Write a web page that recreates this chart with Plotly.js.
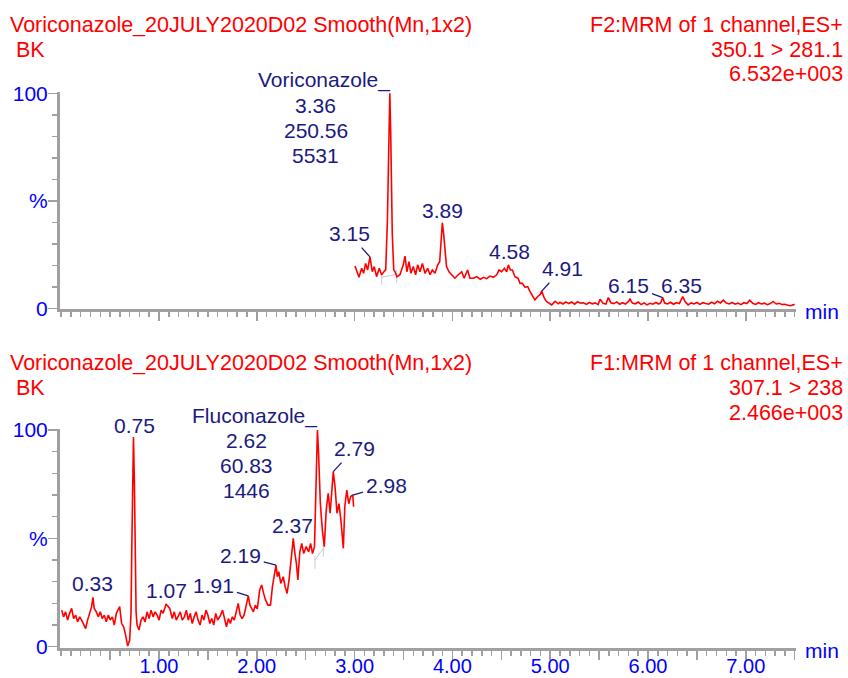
<!DOCTYPE html>
<html>
<head>
<meta charset="utf-8">
<script src="https://cdn.plot.ly/plotly-3.0.1.min.js"></script>
<style>html,body{margin:0;padding:0;background:#fff;}#chart{width:848px;height:678px;}</style>
</head>
<body>
<div id="chart"></div>
<script>
// ---------- DATA ----------
// Top chromatogram: F2 MRM 350.1 > 281.1 (Voriconazole), % relative intensity
const topTime = [3.004,3.024,3.045,3.072,3.092,3.113,3.133,3.157,3.181,3.201,3.225,3.252,3.276,3.300,3.318,3.335,3.350,3.360,3.370,3.385,3.400,3.413,3.433,3.464,3.498,3.515,3.535,3.556,3.576,3.600,3.624,3.645,3.669,3.693,3.720,3.747,3.771,3.795,3.822,3.850,3.870,3.884,3.897,3.910,3.924,3.940,3.965,3.990,4.025,4.060,4.095,4.120,4.155,4.180,4.215,4.250,4.285,4.320,4.350,4.385,4.420,4.453,4.477,4.504,4.531,4.555,4.572,4.593,4.613,4.640,4.670,4.692,4.715,4.743,4.770,4.794,4.815,4.843,4.872,4.896,4.913,4.940,4.962,4.986,5.015,5.050,5.084,
5.10,5.13,5.16,5.19,5.22,5.25,5.28,5.31,5.34,5.37,5.40,5.43,5.46,5.49,5.51,5.54,5.57,5.594,5.62,5.65,5.68,5.71,5.74,5.77,5.80,5.816,5.84,5.87,5.90,5.93,5.96,5.99,6.02,6.05,6.08,6.11,6.13,6.15,6.17,6.20,6.23,6.26,6.29,6.32,6.355,6.38,6.41,6.44,6.47,6.50,6.53,6.56,6.59,6.62,6.65,6.68,6.71,6.74,6.77,6.80,6.83,6.86,6.89,6.92,6.95,6.98,7.01,7.04,7.07,7.10,7.13,7.16,7.19,7.22,7.25,7.28,7.31,7.34,7.37,7.40,7.43,7.46,7.48,7.50];
const topIntensity = [19.7,17.0,14.4,18.6,16.3,20.9,17.8,23.9,17.0,19.4,14.7,18.6,15.6,17.0,18.0,40,88,100,80,35,18,17.0,14.7,15.6,20.2,24.3,17.0,21.7,16.3,19.4,15.6,20.2,17.0,20.9,16.3,18.6,15.6,17.8,16.3,20.2,21.7,33.3,39.8,34.8,25.6,19.4,17.0,15.6,14.0,15.6,17.0,14.0,17.8,14.0,14.0,14.7,13.5,14.4,13.8,15.0,14.4,15.6,17.8,17.0,18.6,17.0,20.2,17.8,17.8,14.7,14.0,11.6,11.6,9.8,10.1,7.8,6.3,3.9,5.5,6.3,8.0,4.7,3.2,2.4,1.6,3.2,2.1,
2.8,2.0,3.0,2.2,2.9,1.9,3.1,2.4,2.6,1.8,2.7,2.1,2.5,1.7,4.2,2.3,2.0,5.0,2.6,2.2,3.0,1.9,2.6,2.0,3.2,4.3,2.4,2.1,2.9,1.7,2.5,1.6,2.3,1.9,2.7,2.0,2.6,5.0,2.4,2.0,2.8,1.9,2.6,2.2,5.4,3.0,1.6,2.5,2.0,2.7,1.8,2.6,2.2,1.9,2.8,2.1,3.3,2.5,3.8,2.4,2.0,2.7,1.9,2.4,1.7,2.6,2.2,3.8,2.3,1.8,2.6,2.0,2.4,1.7,2.2,3.2,2.0,2.3,1.8,1.9,1.4,1.2,1.6,1.8];

// Bottom chromatogram: F1 MRM 307.1 > 238 (Fluconazole), % relative intensity
const bottomTime = [0.005,0.025,0.045,0.066,0.086,0.107,0.127,0.148,0.168,0.189,0.209,0.230,0.250,0.270,0.291,0.311,0.325,0.338,0.359,0.379,0.400,0.420,0.441,0.461,0.482,0.502,0.523,0.543,0.564,0.584,0.598,0.618,0.639,0.659,0.680,0.700,0.714,0.722,0.731,0.739,0.748,0.757,0.766,0.776,0.796,0.817,0.837,0.858,0.878,0.899,0.919,0.940,0.960,0.981,1.001,1.022,1.042,1.062,1.072,1.090,1.110,1.136,1.156,1.177,1.197,1.218,1.238,1.260,1.280,1.300,1.320,1.340,1.360,1.380,1.400,1.420,1.440,1.460,1.480,1.500,1.520,1.540,1.560,1.580,1.600,1.630,1.650,1.670,1.690,1.710,1.730,1.750,1.770,1.790,1.810,1.830,1.850,1.870,1.890,1.913,1.930,1.950,1.965,1.985,2.005,2.030,2.050,2.070,2.090,2.115,2.140,2.160,2.180,2.196,2.210,2.225,2.245,2.270,2.290,2.310,2.330,2.350,2.373,2.390,2.405,2.420,2.440,2.460,2.480,2.505,2.530,2.550,2.570,2.590,2.605,2.620,2.632,2.650,2.670,2.690,2.710,2.730,2.750,2.765,2.782,2.800,2.820,2.840,2.860,2.885,2.900,2.920,2.940,2.960,2.981,2.990];
const bottomIntensity = [16.9,13.8,16.1,12.3,15.4,17.7,13.0,14.6,11.5,13.8,12.3,10.0,8.4,12.3,16.1,18.5,22.8,17.7,16.1,13.8,16.1,13.0,14.6,11.5,14.6,12.3,13.8,10.0,15.4,17.7,18.5,10.7,9.2,5.4,0.3,3.0,15.4,45,82,96.8,78,38,16,10.0,7.7,12.3,13.8,11.5,16.1,13.0,16.9,13.8,16.1,14.6,12.3,16.9,15.4,18.2,19.7,18.8,17.7,13.0,16.1,12.3,14.6,16.1,12.3,13.8,16.9,12.3,15.4,10.7,13.8,16.1,12.3,10.0,14.6,12.3,16.9,14.6,10.7,13.0,10.0,15.4,12.3,14.6,16.9,12.3,9.2,13.0,10.7,13.8,12.3,16.1,20.0,14.6,13.0,14.6,18.5,23.5,19.2,17.0,16.1,19.2,17.5,26.2,28.5,24.6,21.5,19.2,19.2,27.7,33,37.7,32.3,34.6,29.2,32.3,27.7,24.6,30.8,40.0,50.0,43.0,38.5,30.8,43.8,47.7,43.0,46.2,43.8,47.7,43.0,46.2,73.9,100,89,66,53.9,46.2,63,70.8,61.6,69.3,80.8,73.9,61.6,66,58.5,45.4,64.6,72.3,66,69.3,70,64.6];

// Integration baselines (light grey) under the quantified peaks
const topBaseTime = [3.277,3.277,null,3.277,3.430,null,3.430,3.430];
const topBaseInt  = [11,16,null,14.4,15.8,null,12,18];
const bottomBaseTime = [2.595,2.595,null,2.595,2.680,null,2.680,2.680];
const bottomBaseInt  = [36,42,null,40,45.4,null,41.5,48];

// Peak labels (retention time text, peak apex time, apex %)
const topPeakText = ["3.15","3.89","4.58","4.91","6.15","6.35"];
const topPeakTime = [3.157,3.897,4.572,4.913,6.15,6.355];
const topPeakInt  = [23.9,39.8,20.2,8.0,5.0,5.4];
const bottomPeakText = ["0.33","0.75","1.07","1.91","2.19","2.37","2.79","2.98"];
const bottomPeakTime = [0.325,0.739,1.072,1.913,2.196,2.373,2.782,2.981];
const bottomPeakInt  = [22.8,96.8,19.7,23.5,37.7,50,80.8,70];

// Quantified compound blocks: name, RT, area, height
const topCompound = ["Voriconazole_","3.36","250.56","5531"];
const topCompoundTime = 3.36, topCompoundInt = 100;
const bottomCompound = ["Fluconazole_","2.62","60.83","1446"];
const bottomCompoundTime = 2.62, bottomCompoundInt = 100;

// Header texts
const topHeaderLeft = ["Voriconazole_20JULY2020D02 Smooth(Mn,1x2)", " BK"];
const topHeaderRight = ["F2:MRM of 1 channel,ES+", "350.1 > 281.1", "6.532e+003"];
const bottomHeaderLeft = ["Voriconazole_20JULY2020D02 Smooth(Mn,1x2)", " BK"];
const bottomHeaderRight = ["F1:MRM of 1 channel,ES+", "307.1 > 238", "2.466e+003"];

// Axis ticks
const xMajorTicks = [0.5,1,1.5,2,2.5,3,3.5,4,4.5,5,5.5,6,6.5,7,7.5];
const xTickLabels = ["","1.00","","2.00","","3.00","","4.00","","5.00","","6.00","","7.00",""];
const yTickVals = [0,50,100];
const yTickLabels = ["0","%","100"];
const xUnit = "min";

// ---------- STYLE ----------
const FONT = "Liberation Sans, Arial, sans-serif";
const RED = "#ff0000", NAVY = "#1a1a80", BLUE = "#0000ff", AXIS = "#a0a0a0";
const FS = 21, FSH = 21.5;
const W = 848, H = 678, L = 60, R = 52;
const px2paperX = p => (p - L) / (W - L - R);
const px2paperY = p => (H - p) / H;

// Label offsets in pixels: [dx, dy(up positive), arrow]
const topOffsets = [[-20.7,23,true],[0.5,12.7,false],[1.2,13.3,false],[20.3,22.1,true],[-33.7,12.1,true],[-1.5,11.2,false]];
const bottomOffsets = [[-0.5,14,false],[0.7,11.2,false],[0.7,14,false],[-34.3,10.7,true],[-35.2,9.2,true],[-0.8,13.3,false],[20.9,22.7,true],[33.3,9.2,true]];

const annotations = [];
function peakLabels(texts, times, ints, offs, xr, yr) {
  texts.forEach((t, i) => {
    const [dx, dy, arrow] = offs[i];
    const a = {text: t, x: times[i], y: ints[i], xref: xr, yref: yr,
      font: {family: FONT, size: FS, color: NAVY}};
    if (arrow) {
      Object.assign(a, {showarrow: true, ax: dx, ay: -dy, arrowhead: 0, arrowwidth: 1.3,
        arrowcolor: NAVY, standoff: 0, startstandoff: 1});
    } else {
      Object.assign(a, {showarrow: false, xanchor: "center", yanchor: "middle", xshift: dx, yshift: dy});
    }
    annotations.push(a);
  });
}
peakLabels(topPeakText, topPeakTime, topPeakInt, topOffsets, "x", "y");
peakLabels(bottomPeakText, bottomPeakTime, bottomPeakInt, bottomOffsets, "x2", "y2");

function compoundBlock(lines, t, v, xr, yr, numDx, nameDy) {
  lines.forEach((s, i) => {
    const a = {text: s, x: t, y: v, xref: xr, yref: yr, showarrow: false, yanchor: "middle",
      font: {family: FONT, size: FS, color: NAVY}};
    if (i === 0) { a.xanchor = "right"; a.xshift = 2; a.yshift = nameDy; }
    else { a.xanchor = "center"; a.xshift = numDx; a.yshift = nameDy - 25 * i - 0.3; }
    annotations.push(a);
  });
}
compoundBlock(topCompound, topCompoundTime, topCompoundInt, "x", "y", -74.2, 13.3);
compoundBlock(bottomCompound, bottomCompoundTime, bottomCompoundInt, "x2", "y2", -70.7, 14.4);

function header(lines, pxX, pyStart, spacing, anchor) {
  lines.forEach((s, i) => {
    annotations.push({text: s, xref: "paper", yref: "paper", x: px2paperX(pxX), y: px2paperY(pyStart + spacing * i),
      xanchor: anchor, yanchor: "middle", showarrow: false,
      font: {family: FONT, size: FSH, color: RED}});
  });
}
header(topHeaderLeft, 8, 24.8, 25.5, "left");
header(topHeaderRight, 845, 25.3, 24.5, "right");
header(bottomHeaderLeft, 8, 362.8, 25.5, "left");
header(bottomHeaderRight, 845, 362.5, 25, "right");

[311, 650].forEach(py => annotations.push({text: xUnit, xref: "paper", yref: "paper",
  x: px2paperX(803), y: px2paperY(py), xanchor: "left", yanchor: "middle", showarrow: false,
  font: {family: FONT, size: FS, color: BLUE}}));

const traceLine = {color: RED, width: 1.6};
const baseLine = {color: "#cccccc", width: 1};
const data = [
  {x: topBaseTime, y: topBaseInt, xaxis: "x", yaxis: "y", mode: "lines", line: baseLine, hoverinfo: "skip", connectgaps: false},
  {x: bottomBaseTime, y: bottomBaseInt, xaxis: "x2", yaxis: "y2", mode: "lines", line: baseLine, hoverinfo: "skip", connectgaps: false},
  {x: topTime, y: topIntensity, xaxis: "x", yaxis: "y", mode: "lines", line: traceLine},
  {x: bottomTime, y: bottomIntensity, xaxis: "x2", yaxis: "y2", mode: "lines", line: traceLine}
];

const xCommon = {
  range: [-0.012, 7.513], showgrid: false, zeroline: false, showline: true,
  linecolor: AXIS, linewidth: 3, ticks: "outside", tickmode: "array", tickvals: xMajorTicks,
  ticklen: 9, tickwidth: 1.5, tickcolor: AXIS, ticklabelstandoff: -11,
  tickfont: {family: FONT, size: 20, color: BLUE},
  minor: {tickmode: "linear", tick0: 0, dtick: 0.1, ticks: "outside", ticklen: 5, tickwidth: 1.5, tickcolor: AXIS},
  fixedrange: true
};
const yCommon = {
  range: [-0.5, 100.5], showgrid: false, zeroline: false, showline: true,
  linecolor: AXIS, linewidth: 3, ticks: "outside", tickmode: "array", tickvals: yTickVals, ticktext: yTickLabels,
  ticklen: 9, tickwidth: 1.5, tickcolor: AXIS, ticklabelstandoff: -4,
  tickfont: {family: FONT, size: FS, color: BLUE},
  minor: {tickmode: "linear", tick0: 0, dtick: 10, ticks: "outside", ticklen: 5, tickwidth: 1.5, tickcolor: AXIS},
  fixedrange: true
};

const layout = {
  width: W, height: H,
  margin: {l: L, r: R, t: 0, b: 0, pad: 0},
  paper_bgcolor: "#ffffff", plot_bgcolor: "#ffffff",
  showlegend: false,
  xaxis: Object.assign({}, xCommon, {domain: [0, 1], anchor: "y", showticklabels: false, ticktext: xTickLabels}),
  yaxis: Object.assign({}, yCommon, {domain: [0.5437, 0.864], anchor: "x"}),
  xaxis2: Object.assign({}, xCommon, {domain: [0, 1], anchor: "y2", ticktext: xTickLabels}),
  yaxis2: Object.assign({}, yCommon, {domain: [0.0445, 0.3674], anchor: "x2"}),
  annotations: annotations
};

Plotly.newPlot("chart", data, layout, {displayModeBar: false, staticPlot: true});
</script>
</body>
</html>
